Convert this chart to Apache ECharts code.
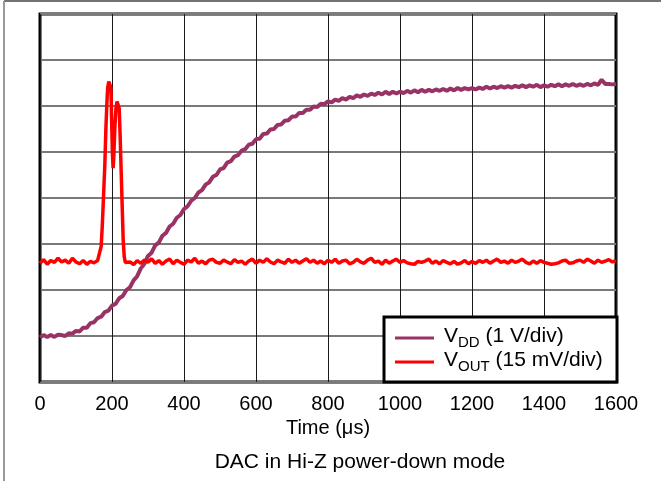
<!DOCTYPE html>
<html>
<head>
<meta charset="utf-8">
<script src="https://cdn.jsdelivr.net/npm/echarts@6/dist/echarts.min.js"></script>
<style>html,body{margin:0;padding:0;background:#fff}#c{width:661px;height:481px}</style>
</head>
<body>
<div id="c"></div>
<script>
// ---- data ----
var xTicks = [0, 200, 400, 600, 800, 1000, 1200, 1400, 1600];
var vddStep = 10; // µs between VDD samples, starting at 0
var vddValues = [
  0.97, 1.02, 0.98, 1.02, 0.98, 1.03, 1.02, 1.00, 1.06, 1.05, 1.11,
  1.10, 1.18, 1.18, 1.28, 1.30, 1.39, 1.42, 1.52, 1.55, 1.66,
  1.70, 1.82, 1.87, 2.00, 2.06, 2.21, 2.30, 2.47, 2.57, 2.74,
  2.81, 2.97, 3.03, 3.18, 3.24, 3.38, 3.44, 3.57, 3.63, 3.76,
  3.82, 3.94, 4.00, 4.12, 4.17, 4.29, 4.34, 4.46, 4.50, 4.62,
  4.65, 4.77, 4.80, 4.90, 4.93, 5.03, 5.06, 5.16, 5.18, 5.28,
  5.29, 5.39, 5.40, 5.49, 5.50, 5.59, 5.60, 5.68, 5.69, 5.77,
  5.77, 5.85, 5.85, 5.92, 5.92, 5.99, 5.98, 6.05, 6.04, 6.10,
  6.08, 6.14, 6.11, 6.17, 6.14, 6.20, 6.17, 6.23, 6.20, 6.25,
  6.22, 6.27, 6.24, 6.29, 6.25, 6.31, 6.26, 6.31, 6.27, 6.31,
  6.28, 6.33, 6.29, 6.34, 6.30, 6.35, 6.31, 6.35, 6.32, 6.36,
  6.33, 6.37, 6.33, 6.38, 6.34, 6.39, 6.35, 6.39, 6.36, 6.39,
  6.36, 6.40, 6.37, 6.42, 6.38, 6.42, 6.39, 6.43, 6.40, 6.43,
  6.40, 6.44, 6.41, 6.45, 6.41, 6.45, 6.42, 6.46, 6.41, 6.45,
  6.42, 6.46, 6.43, 6.47, 6.43, 6.47, 6.44, 6.48, 6.44, 6.47,
  6.44, 6.48, 6.45, 6.49, 6.46, 6.57, 6.48, 6.48, 6.47, 6.48
];
var voutTimes = [
  0,10,20,30,40,50,60,70,80,90,100,110,120,130,140,150,160,165,
  170,173,176,180,183,186,188,191,194,197,199,201,203,205,208,211,214,217,220,222,225,228,231,234,237,241,
  250,260,270,280,290,300,310,320,330,340,350,360,370,380,390,400,410,420,430,440,450,460,470,480,490,
  500,510,520,530,540,550,560,570,580,590,600,610,620,630,640,650,660,670,680,690,
  700,710,720,730,740,750,760,770,780,790,800,810,820,830,840,850,860,870,880,890,
  900,910,920,930,940,950,960,970,980,990,1000,1010,1020,1030,1040,1050,1060,1070,1080,1090,
  1100,1110,1120,1130,1140,1150,1160,1170,1180,1190,1200,1210,1220,1230,1240,1250,1260,1270,1280,1290,
  1300,1310,1320,1330,1340,1350,1360,1370,1380,1390,1400,1410,1420,1430,1440,1450,1460,1470,1480,1490,
  1500,1510,1520,1530,1540,1550,1560,1570,1580,1590,1600
];
var voutValues = [
  2.58,2.66,2.56,2.64,2.60,2.69,2.61,2.65,2.58,2.69,2.61,2.57,2.64,2.56,2.62,2.59,2.64,2.66,
  2.95,3.40,3.95,4.70,5.50,6.10,6.40,6.53,6.53,6.40,5.70,5.00,4.65,4.90,5.55,5.95,6.10,6.12,5.95,5.50,4.70,3.90,3.10,2.72,2.60,2.57,
  2.61,2.55,2.64,2.58,2.65,2.60,2.68,2.58,2.64,2.56,2.63,2.67,2.57,2.65,2.60,2.56,2.65,2.61,2.69,2.58,2.63,2.57,2.65,2.67,2.60,
  2.58,2.65,2.61,2.57,2.66,2.60,2.63,2.56,2.63,2.67,2.58,2.65,2.60,2.68,2.61,2.57,2.65,2.61,2.58,2.67,
  2.60,2.65,2.58,2.63,2.68,2.60,2.65,2.58,2.63,2.57,2.65,2.60,2.67,2.58,2.63,2.65,2.57,2.60,2.67,2.61,
  2.58,2.65,2.69,2.60,2.63,2.56,2.65,2.58,2.63,2.67,2.60,2.64,2.59,2.57,2.56,2.62,2.60,2.63,2.67,2.58,
  2.63,2.57,2.64,2.60,2.57,2.62,2.56,2.59,2.64,2.57,2.62,2.58,2.64,2.60,2.65,2.58,2.63,2.67,2.60,2.63,
  2.58,2.65,2.60,2.63,2.67,2.60,2.57,2.63,2.58,2.64,2.60,2.58,2.56,2.57,2.59,2.63,2.65,2.58,2.59,2.63,
  2.65,2.60,2.67,2.63,2.58,2.65,2.60,2.63,2.66,2.61,2.64
];
var seriesNames = ['VDD', 'VOUT'];
var legendLabels = {VDD: ['DD', ' (1 V/div)'], VOUT: ['OUT', ' (15 mV/div)']};
var xName = 'Time (\u03bcs)';
var caption = 'DAC in Hi-Z power-down mode';

// ---- build ----
var vddData = vddValues.map(function (v, i) { return [i * vddStep, v]; });
var voutData = voutValues.map(function (v, i) { return [voutTimes[i], v]; });
var FONT = 'Liberation Sans, Arial, sans-serif';

var chart = echarts.init(document.getElementById('c'), null, {renderer: 'canvas'});
chart.setOption({
  animation: false,
  backgroundColor: '#fff',
  grid: {left: 40, right: 45, top: 14, bottom: 99, show: true, borderColor: '#000', borderWidth: 3, backgroundColor: 'transparent'},
  xAxis: {
    type: 'value', min: xTicks[0], max: xTicks[xTicks.length - 1], interval: 200,
    axisLine: {show: false}, axisTick: {show: false},
    axisLabel: {color: '#000', fontSize: 20, fontFamily: FONT, margin: 12, formatter: function (v) { return String(v); }},
    splitLine: {show: true, lineStyle: {color: '#1a1a1a', width: 1}},
    name: xName, nameLocation: 'middle', nameGap: 32,
    nameTextStyle: {color: '#000', fontSize: 20, fontFamily: FONT}
  },
  yAxis: {
    type: 'value', min: 0, max: 8, interval: 1,
    axisLine: {show: false}, axisTick: {show: false}, axisLabel: {show: false},
    splitLine: {show: true, lineStyle: {color: '#7a7a7a', width: 2}}
  },
  legend: {
    show: true, orient: 'vertical', left: 395, top: 326, padding: 0, itemGap: 0,
    itemWidth: 39, itemHeight: 3, icon: 'rect', z: 20,
    data: seriesNames,
    formatter: function (n) {
      return '{g|}{m|V}{s|' + legendLabels[n][0] + '}{m|' + legendLabels[n][1] + '}';
    },
    textStyle: {
      color: '#000', fontFamily: FONT,
      rich: {
        g: {width: 5, lineHeight: 24},
        m: {fontSize: 21, fontFamily: FONT, lineHeight: 24, verticalAlign: 'bottom', padding: [0, 0, 3, 0]},
        s: {fontSize: 15, fontFamily: FONT, lineHeight: 24, verticalAlign: 'bottom'}
      }
    }
  },
  graphic: [
    {type: 'line', shape: {x1: 4, y1: 1, x2: 661, y2: 1}, style: {stroke: '#444', lineWidth: 1.5}, z: 1},
    {type: 'line', shape: {x1: 4, y1: 1, x2: 4, y2: 481}, style: {stroke: '#999', lineWidth: 2}, z: 1},
    {type: 'rect', shape: {x: 384, y: 317, width: 233, height: 65}, style: {fill: '#fff', stroke: '#000', lineWidth: 3}, z: 10},
    {type: 'text', x: 360, y: 462, z: 10, style: {text: caption, fill: '#000', fontSize: 21, fontFamily: FONT, textAlign: 'center', textVerticalAlign: 'middle'}}
  ],
  series: [
    {name: 'VDD', type: 'line', data: vddData, showSymbol: false, symbol: 'none', lineStyle: {color: '#993366', width: 4}, itemStyle: {color: '#993366'}, z: 3},
    {name: 'VOUT', type: 'line', data: voutData, showSymbol: false, symbol: 'none', lineStyle: {color: '#ff0000', width: 3.5}, itemStyle: {color: '#ff0000'}, z: 4}
  ]
});
</script>
</body>
</html>
